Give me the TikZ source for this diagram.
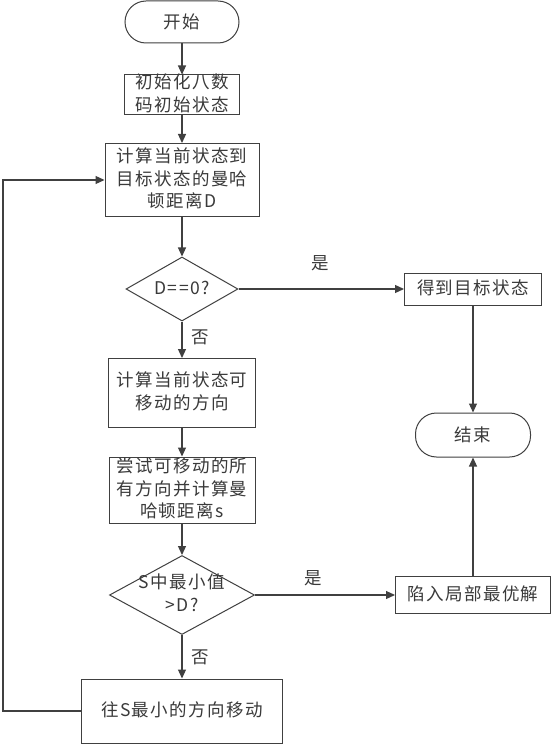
\documentclass[tikz,border=0pt]{standalone}
\usepackage{fontspec}
\setmainfont[LetterSpace=8]{Noto Sans CJK SC}
\usetikzlibrary{arrows.meta,shapes.geometric}
\definecolor{ln}{HTML}{404040}
\definecolor{tx}{HTML}{3A3A3A}
\newcommand\zerobox[1]{\makebox[0pt]{\smash{\raisebox{-5pt}{\begin{tabular}{@{}c@{}}#1\end{tabular}}}}}
\begin{document}
\begin{tikzpicture}[x=1pt,y=-1pt,
  every node/.style={font=\fontsize{17.5}{22.5}\selectfont,text=tx},
  procbox/.style={draw=ln,line width=1pt,rectangle,inner sep=0pt,align=center},
  termbox/.style={draw=ln,line width=1pt,rectangle,rounded corners=21pt,inner sep=0pt,align=center},
  dia/.style={draw=ln,line width=1pt,diamond,inner sep=0pt,shape aspect=2},
  lab/.style={inner sep=0pt},
  conn/.style={draw=ln,line width=1.2pt,-{Triangle[length=9pt,width=8pt]}}]
\useasboundingbox (0,0) rectangle (554,746);
\fill[white] (0,0) rectangle (554,746);
\node[termbox,minimum width=114,minimum height=42] (start) at (182,22) {开始};
\node[procbox,minimum width=115,minimum height=40] (init) at (182,95) {\zerobox{初始化八数\\码初始状态}};
\node[procbox,minimum width=154,minimum height=73] (calc) at (182,180) {\zerobox{计算当前状态到\\目标状态的曼哈\\顿距离D}};
\node[dia,minimum width=112,minimum height=64] (d1) at (182,289) {\zerobox{D==0?}};
\node[procbox,minimum width=137,minimum height=32] (goal) at (473,289) {\zerobox{得到目标状态}};
\node[procbox,minimum width=147,minimum height=69] (dir) at (182,393) {\zerobox{计算当前状态可\\移动的方向}};
\node[termbox,minimum width=115,minimum height=44] (end) at (473,435) {结束};
\node[procbox,minimum width=146,minimum height=66] (try) at (182,490) {\zerobox{尝试可移动的所\\有方向并计算曼\\哈顿距离s}};
\node[dia,minimum width=145,minimum height=79] (d2) at (182,595) {\zerobox{S中最小值\\>D?}};
\node[procbox,minimum width=155,minimum height=37] (trap) at (473,595) {\zerobox{陷入局部最优解}};
\node[procbox,minimum width=201,minimum height=64] (move) at (182,711) {\zerobox{往S最小的方向移动}};
\node[lab] (y1) at (320,263) {是};
\node[lab] (n1) at (200,337) {否};
\node[lab] (y2) at (313,578) {是};
\node[lab] (n2) at (200,657) {否};
\coordinate (lpb) at (3,711);
\coordinate (lpt) at (3,180);
\draw[conn] (start) -- (init);
\draw[conn] (init) -- (calc);
\draw[conn] (calc) -- (d1);
\draw[conn] (d1.east) -- (goal.west);
\draw[conn] (d1.south) -- (dir.north);
\draw[conn] (dir) -- (try);
\draw[conn] (try) -- (d2);
\draw[conn] (d2.east) -- (trap.west);
\draw[conn] (d2.south) -- (move.north);
\draw[conn] (goal) -- (end);
\draw[conn] (trap) -- (end);
\draw[conn] (move.west) -- (lpb) -- (lpt) -- (calc.west);
\end{tikzpicture}
\end{document}
